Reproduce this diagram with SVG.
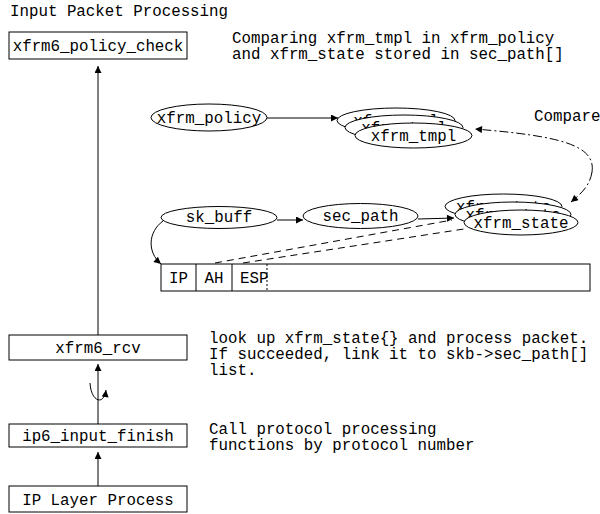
<svg xmlns="http://www.w3.org/2000/svg" width="600" height="514" viewBox="0 0 600 514">
  <defs>
    <style>
      text { font-family: "Liberation Mono", "DejaVu Sans Mono", monospace; font-size: 15.8px; fill: #000; }
      .mid { text-anchor: middle; }
      .box { fill: #fff; stroke: #000; stroke-width: 1; }
      .ell { fill: #fff; stroke: #000; stroke-width: 1; }
      .line { fill: none; stroke: #000; stroke-width: 1; }
      .dash { fill: none; stroke: #000; stroke-width: 1; stroke-dasharray: 7 5; }
      .dashdot { fill: none; stroke: #000; stroke-width: 1; stroke-dasharray: 9 3 2 3; }
    </style>
    <marker id="arr" viewBox="0 0 10 10" refX="10" refY="5" markerWidth="8" markerHeight="7" markerUnits="userSpaceOnUse" orient="auto">
      <path d="M0,0 L10,5 L0,10 z" fill="#000"/>
    </marker>
  </defs>

  <rect width="600" height="514" fill="#fff"/>

  <text x="10" y="16">Input Packet Processing</text>

  <!-- annotations -->
  <text x="232" y="43">Comparing xfrm_tmpl in xfrm_policy</text>
  <text x="232" y="59">and xfrm_state stored in sec_path[]</text>
  <text x="534" y="121">Compare</text>
  <text x="209" y="343">look up xfrm_state{} and process packet.</text>
  <text x="209" y="359">If succeeded, link it to skb-&gt;sec_path[]</text>
  <text x="209" y="375">list.</text>
  <text x="209" y="434">Call protocol processing</text>
  <text x="209" y="450">functions by protocol number</text>

  <!-- connectors -->
  <g id="connectors">
    <path class="line" d="M98,335 L98,66" marker-end="url(#arr)"/>
    <path class="line" d="M98,424 L98,364" marker-end="url(#arr)"/>
    <path class="line" d="M98,486 L98,452" marker-end="url(#arr)"/>
    <path class="line" d="M90,383 C91,402 104,406 106,390" marker-end="url(#arr)"/>
    <path class="line" d="M267,118 L338,118" marker-end="url(#arr)"/>
    <path class="line" d="M277,220 L303,220" marker-end="url(#arr)"/>
    <path class="line" d="M418,219 L454,218" marker-end="url(#arr)"/>
    <path class="line" d="M163,221 C148,232 147,252 161,264" marker-end="url(#arr)"/>
    <path class="dashdot" d="M592,172 C596,145 560,136 475,129" marker-end="url(#arr)"/>
    <path class="dashdot" d="M592,172 C590,185 582,193 571,202" marker-end="url(#arr)"/>
    <path class="dash" d="M215,263 L452,220"/>
    <path class="dash" d="M243,263 L464,229"/>
  </g>

  <!-- process boxes -->
  <g id="policy-check">
    <rect class="box" x="9" y="32" width="178" height="27"/>
    <text class="mid" x="98" y="51">xfrm6_policy_check</text>
  </g>
  <g id="xfrm6-rcv">
    <rect class="box" x="9" y="335" width="178" height="25"/>
    <text class="mid" x="98" y="353">xfrm6_rcv</text>
  </g>
  <g id="ip6-input-finish">
    <rect class="box" x="9" y="424" width="178" height="23"/>
    <text class="mid" x="98" y="441">ip6_input_finish</text>
  </g>
  <g id="ip-layer">
    <rect class="box" x="9" y="486" width="178" height="26"/>
    <text class="mid" x="98" y="505">IP Layer Process</text>
  </g>

  <!-- structures -->
  <g id="xfrm-policy">
    <ellipse class="ell" cx="209" cy="117.5" rx="58" ry="13.5"/>
    <text class="mid" x="209" y="123">xfrm_policy</text>
  </g>
  <g id="xfrm-tmpl">
    <ellipse class="ell" cx="396" cy="120.5" rx="59" ry="12.5"/>
    <text class="mid" x="396" y="126">xfrm_tmpl</text>
    <ellipse class="ell" cx="404" cy="127.5" rx="59" ry="12.5"/>
    <text class="mid" x="404" y="133">xfrm_tmpl</text>
    <ellipse class="ell" cx="413.5" cy="135.5" rx="58.5" ry="12.5"/>
    <text class="mid" x="413.5" y="141">xfrm_tmpl</text>
  </g>
  <g id="sk-buff">
    <ellipse class="ell" cx="219" cy="217.5" rx="58" ry="11"/>
    <text class="mid" x="219" y="222">sk_buff</text>
  </g>
  <g id="sec-path">
    <ellipse class="ell" cx="360.5" cy="216" rx="57.5" ry="12.5"/>
    <text class="mid" x="360.5" y="221">sec_path</text>
  </g>
  <g id="xfrm-state">
    <ellipse class="ell" cx="503.5" cy="206.5" rx="58.5" ry="12.5"/>
    <text class="mid" x="503.5" y="212">xfrm_state</text>
    <ellipse class="ell" cx="513" cy="214.5" rx="58" ry="12.5"/>
    <text class="mid" x="513" y="220">xfrm_state</text>
    <ellipse class="ell" cx="521" cy="222.5" rx="57" ry="12.5"/>
    <text class="mid" x="521" y="228">xfrm_state</text>
  </g>

  <!-- packet layout -->
  <g id="packet">
    <rect class="box" x="161" y="264" width="429" height="27"/>
    <line class="line" x1="196" y1="264" x2="196" y2="291"/>
    <line class="line" x1="232" y1="264" x2="232" y2="291"/>
    <line x1="267" y1="264" x2="267" y2="291" stroke="#000" stroke-width="1" stroke-dasharray="2 2"/>
    <text class="mid" x="178.5" y="283">IP</text>
    <text class="mid" x="214" y="283">AH</text>
    <text x="240" y="283">ESP</text>
  </g>
</svg>
